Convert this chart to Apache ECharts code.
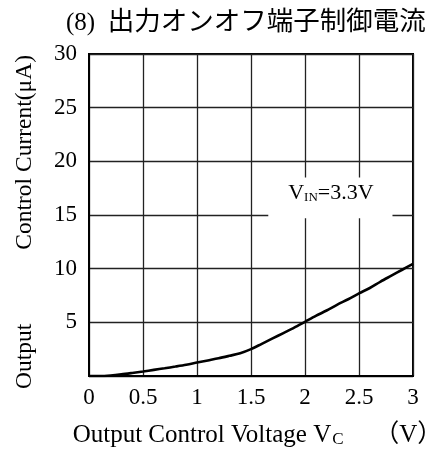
<!DOCTYPE html>
<html>
<head>
<meta charset="utf-8">
<script src="https://cdn.jsdelivr.net/npm/echarts@6/dist/echarts.min.js"></script>
<style>html,body{margin:0;padding:0;background:#fff;}#c{width:430px;height:453px;}</style>
</head>
<body>
<div id="c"></div>
<script>
// Data
const voltage = [0, 0.1, 0.2, 0.3, 0.4, 0.5, 0.6, 0.7, 0.8, 0.9, 1.0, 1.1, 1.2, 1.3, 1.4, 1.5, 1.6, 1.7, 1.8, 1.9, 2.0, 2.1, 2.2, 2.3, 2.4, 2.5, 2.6, 2.7, 2.8, 2.9, 3.0];
const current = [0, 0, 0.05, 0.15, 0.28, 0.42, 0.57, 0.72, 0.88, 1.05, 1.25, 1.45, 1.65, 1.88, 2.12, 2.5, 3.0, 3.5, 4.0, 4.5, 5.05, 5.6, 6.1, 6.65, 7.15, 7.7, 8.2, 8.8, 9.35, 9.9, 10.45];
const xTicks = [0, 0.5, 1, 1.5, 2, 2.5, 3];
const yTicks = [0, 5, 10, 15, 20, 25, 30];
const titleNum = '(8)';
const titleText = '出力オンオフ端子制御電流';
const annotation = { v: 2.24, i: 17.0, v0: 1.66, v1: 2.81, i0: 14.7, i1: 18.5 };

const serif = '"Liberation Serif", "Times New Roman", "Noto Sans CJK JP", serif';
const chart = echarts.init(document.getElementById('c'), null, { renderer: 'canvas' });
const option = {
  backgroundColor: '#fff',
  animation: false,
  title: {
    text: '{p|' + titleNum + '}{p|  }{c|' + titleText + '}',
    left: 61, top: 5,
    textStyle: {
      fontWeight: 'normal',
      rich: {
        p: { fontFamily: serif, fontSize: 25, fontWeight: 'normal', color: '#000' },
        c: { fontFamily: serif, fontSize: 26.5, fontWeight: 'normal', color: '#000' }
      }
    }
  },
  grid: { left: 89, right: 17, top: 54, bottom: 77, show: true, borderColor: '#000', borderWidth: 2,
    containLabel: false, outerBoundsMode: 'none' },
  xAxis: {
    type: 'value', min: xTicks[0], max: xTicks[xTicks.length - 1], interval: 0.5,
    axisLine: { show: true, lineStyle: { color: '#000', width: 2 } },
    axisTick: { show: false },
    splitLine: { show: true, lineStyle: { color: '#222', width: 1.3 } },
    axisLabel: { color: '#000', fontFamily: serif, fontSize: 23, margin: 10 },
    nameLocation: 'middle', nameGap: 47,
    name: '{f|Output Control Voltage V}{s|C}{n|   （V）}',
    nameTextStyle: {
      rich: {
        f: { fontFamily: serif, fontSize: 25, color: '#000', padding: [0, 0, 0, 13] },
        n: { fontFamily: serif, fontSize: 25, color: '#000' },
        s: { fontFamily: serif, fontSize: 17, color: '#000', padding: [8, 12, 0, 1] }
      }
    }
  },
  yAxis: {
    type: 'value', min: yTicks[0], max: yTicks[yTicks.length - 1], interval: 5,
    axisLine: { show: true, lineStyle: { color: '#000', width: 2 } },
    axisTick: { show: false },
    splitLine: { show: true, lineStyle: { color: '#222', width: 1.3 } },
    axisLabel: { color: '#000', fontFamily: serif, fontSize: 23, margin: 12,
      formatter: v => (v === 0 ? '' : String(v)) },
    nameLocation: 'middle', nameGap: 52, nameRotate: 90,
    name: '{a|Output}{b|Control Current(μA)}',
    nameTextStyle: {
      rich: {
        a: { fontFamily: serif, fontSize: 23.5, color: '#000', padding: [0, 74, 0, 0] },
        b: { fontFamily: serif, fontSize: 23.5, color: '#000', padding: [0, 14, 0, 0] }
      }
    }
  },
  series: [{
    type: 'line',
    data: voltage.map((v, k) => [v, current[k]]),
    showSymbol: false,
    smooth: 0.3,
    lineStyle: { color: '#000', width: 2.6 },
    z: 3
  }]
};
chart.setOption(option);

const p0 = chart.convertToPixel({ gridIndex: 0 }, [annotation.v0, annotation.i1]);
const p1 = chart.convertToPixel({ gridIndex: 0 }, [annotation.v1, annotation.i0]);
const pc = chart.convertToPixel({ gridIndex: 0 }, [annotation.v, annotation.i]);
chart.setOption({
  graphic: [
    { type: 'rect', z: 10, shape: { x: p0[0], y: p0[1], width: p1[0] - p0[0], height: p1[1] - p0[1] },
      style: { fill: '#fff' } },
    { type: 'text', z: 11, x: pc[0], y: pc[1],
      style: {
        text: '{v|V}{s|IN}{v|=3.3V}',
        align: 'center', verticalAlign: 'middle',
        rich: {
          v: { fontFamily: serif, fontSize: 22, fill: '#000' },
          s: { fontFamily: serif, fontSize: 13, fill: '#000', padding: [8, 0, 0, 0] }
        }
      } }
  ]
});
</script>
</body>
</html>
